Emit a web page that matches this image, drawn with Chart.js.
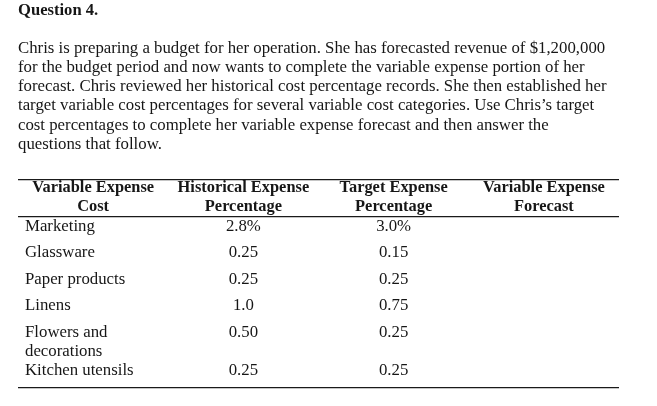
<!DOCTYPE html>
<html>
<head>
<meta charset="utf-8">
<script src="https://cdn.jsdelivr.net/npm/chart.js@4"></script>
<style>
  body { margin: 0; background: #fff; }
</style>
</head>
<body>
<canvas id="budgetTable" width="657" height="406"></canvas>
<script>
const questionTitle = "Question 4.";
const questionLines = [
  "Chris is preparing a budget for her operation. She has forecasted revenue of $1,200,000",
  "for the budget period and now wants to complete the variable expense portion of her",
  "forecast. Chris reviewed her historical cost percentage records. She then established her",
  "target variable cost percentages for several variable cost categories. Use Chris\u2019s target",
  "cost percentages to complete her variable expense forecast and then answer the",
  "questions that follow."
];
const columnHeaders = [
  ["Variable Expense", "Cost"],
  ["Historical Expense", "Percentage"],
  ["Target Expense", "Percentage"],
  ["Variable Expense", "Forecast"]
];
const categories = ["Marketing", "Glassware", "Paper products", "Linens", ["Flowers and", "decorations"], "Kitchen utensils"];
const historical = ["2.8%", "0.25", "0.25", "1.0", "0.50", "0.25"];
const target = ["3.0%", "0.15", "0.25", "0.75", "0.25", "0.25"];
const forecast = ["", "", "", "", "", ""];

// one row = 1 unit on the y scale, one text line inside a cell = LINE units
const LINE = 0.72;
const HEADER_TOP = -1.48;
const rowPos = [];
categories.forEach((c, i) => {
  if (i === 0) { rowPos.push(0); return; }
  const prev = [].concat(categories[i - 1]).length;
  rowPos.push(rowPos[i - 1] + (prev > 1 ? prev * LINE : 1));
});
const rules = [-1.78, -0.39, 6.09];

const serif = "'Liberation Serif', 'Times New Roman', serif";
const ink = "#161616";

const cellText = {
  id: "cellText",
  afterDatasetsDraw(chart) {
    const { ctx } = chart;
    const y = chart.scales.y;
    chart.data.datasets.forEach((ds, di) => {
      const meta = chart.getDatasetMeta(di);
      ctx.save();
      ctx.font = (ds.bold ? "bold 16.4px " : "16.8px ") + serif;
      ctx.fillStyle = ink;
      ctx.textAlign = ds.textAlign || "center";
      ctx.textBaseline = "middle";
      meta.data.forEach((pt, i) => {
        [].concat(ds.texts[i]).forEach((line, k) => {
          ctx.fillText(line, pt.x + (ds.offsetX || 0), y.getPixelForValue(ds.data[i].y + k * LINE));
        });
      });
      ctx.restore();
    });
  }
};

const column = (texts, x, extra) => Object.assign({
  texts,
  data: texts.map((t, i) => ({ x, y: rowPos[i] })),
  pointRadius: 0
}, extra);

const data = {
  datasets: [
    {
      texts: columnHeaders,
      data: columnHeaders.map((h, i) => ({ x: i + 0.5, y: HEADER_TOP })),
      pointRadius: 0,
      bold: true
    },
    column(categories, 0, { textAlign: "left", offsetX: 7 }),
    column(historical, 1.5),
    column(target, 2.5),
    column(forecast, 3.5)
  ]
};

const options = {
  responsive: false,
  animation: false,
  events: [],
  layout: { padding: { top: 0, left: 18, right: 38, bottom: 18 } },
  scales: {
    x: { type: "linear", min: 0, max: 4, display: false },
    y: {
      type: "linear",
      reverse: true,
      min: rules[0],
      max: rules[2],
      border: { display: false },
      ticks: { display: false },
      grid: { drawTicks: false, color: "#1a1a1a", lineWidth: 1.3 },
      afterBuildTicks: scale => { scale.ticks = rules.map(v => ({ value: v })); }
    }
  },
  plugins: {
    legend: { display: false },
    tooltip: { enabled: false },
    title: {
      display: true,
      text: questionTitle,
      align: "start",
      color: ink,
      font: { family: serif, size: 16.6, weight: "bold", lineHeight: 1.16 },
      padding: { top: 1, bottom: 18.5 }
    },
    subtitle: {
      display: true,
      text: questionLines,
      align: "start",
      color: ink,
      font: { family: serif, size: 16.8, lineHeight: 1.143 },
      padding: { top: 0, bottom: 25.4 }
    }
  }
};

new Chart(document.getElementById("budgetTable").getContext("2d"), {
  type: "scatter",
  data,
  options,
  plugins: [cellText]
});
</script>
</body>
</html>
